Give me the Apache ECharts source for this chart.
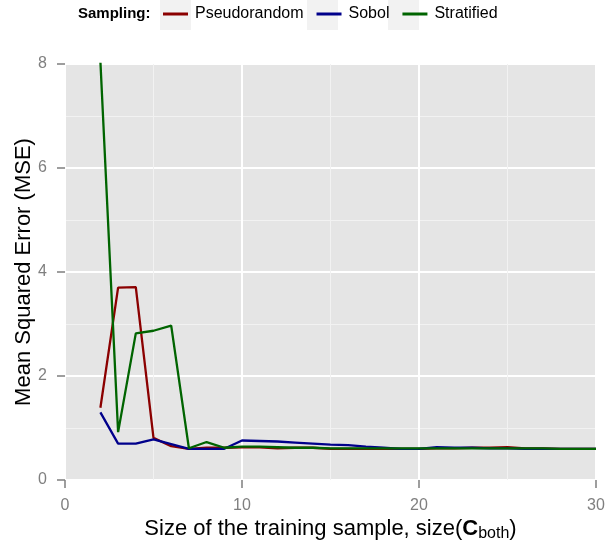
<!DOCTYPE html>
<html>
<head>
<meta charset="utf-8">
<script src="https://cdn.jsdelivr.net/npm/echarts@6/dist/echarts.min.js"></script>
<style>
  html, body { margin: 0; padding: 0; background: #fff; }
  #main { width: 615px; height: 546px; }
</style>
</head>
<body>
<div id="main"></div>
<script>
// training sample sizes
var sizes = [2, 3, 4, 5, 6, 7, 8, 9, 10, 11, 12, 13, 14, 15, 16, 17, 18, 19, 20, 21, 22, 23, 24, 25, 26, 27, 28, 29, 30];

// MSE per sampling scheme
var pseudorandom = [1.39, 3.70, 3.71, 0.81, 0.65, 0.60, 0.62, 0.62, 0.63, 0.63, 0.61, 0.62, 0.62, 0.60, 0.60,
                    0.60, 0.60, 0.60, 0.60, 0.61, 0.61, 0.62, 0.62, 0.63, 0.61, 0.61, 0.60, 0.60, 0.60];
var sobol = [1.30, 0.70, 0.70, 0.78, 0.69, 0.60, 0.60, 0.60, 0.76, 0.75, 0.74, 0.72, 0.70, 0.68, 0.67,
             0.64, 0.62, 0.60, 0.60, 0.63, 0.62, 0.62, 0.61, 0.61, 0.60, 0.60, 0.60, 0.60, 0.60];
var stratified = [8.05, 0.92, 2.82, 2.87, 2.97, 0.61, 0.73, 0.62, 0.64, 0.64, 0.63, 0.62, 0.62, 0.61, 0.61,
                  0.61, 0.61, 0.61, 0.61, 0.61, 0.61, 0.61, 0.61, 0.61, 0.61, 0.61, 0.60, 0.60, 0.60];

var xTicks = [0, 10, 20, 30];
var yTicks = [0, 2, 4, 6, 8];

var FONT = 'Liberation Sans';

function pairs(vals) {
    var out = [];
    for (var i = 0; i < sizes.length; i++) {
        out.push([sizes[i], vals[i]]);
    }
    return out;
}

function lineSeries(name, vals, color) {
    return {
        name: name,
        type: 'line',
        data: pairs(vals),
        showSymbol: false,
        symbol: 'none',
        clip: true,
        lineStyle: { color: color, width: 2.3 },
        itemStyle: { color: color },
        emphasis: { disabled: true },
        animation: false
    };
}

var chartObj = echarts.init(document.getElementById('main'), null, { renderer: 'canvas' });

var chartOpt = {
    animation: false,
    textStyle: { fontFamily: FONT },
    grid: {
        left: 65, right: 19, top: 64, bottom: 66,
        outerBoundsMode: 'none',
        containLabel: false,
        show: true, backgroundColor: '#E5E5E5', borderWidth: 0
    },
    graphic: [
        { type: 'text', left: 78, top: 6, z: 10,
          style: { text: 'Sampling:', font: 'bold 15px ' + FONT, fill: '#000' } },
        { type: 'rect', shape: { x: 160, y: 0, width: 31, height: 30 }, style: { fill: '#F2F2F2' }, z: 0 },
        { type: 'rect', shape: { x: 307, y: 0, width: 31, height: 30 }, style: { fill: '#F2F2F2' }, z: 0 },
        { type: 'rect', shape: { x: 388, y: 0, width: 31, height: 30 }, style: { fill: '#F2F2F2' }, z: 0 }
    ],
    legend: {
        left: 163, top: 6, z: 10,
        icon: 'rect',
        itemWidth: 25, itemHeight: 3,
        itemGap: 13,
        padding: 0,
        textStyle: { fontFamily: FONT, fontSize: 16, color: '#000', padding: [0, 0, 0, 2] },
        data: ['Pseudorandom', 'Sobol', 'Stratified']
    },
    xAxis: {
        type: 'value', min: 0, max: 30, interval: 10,
        name: 'Size of the training sample, size({b|C}{s|both})',
        nameLocation: 'middle', nameGap: 36,
        nameMoveOverlap: false,
        nameTextStyle: {
            fontFamily: FONT, fontSize: 22, color: '#000',
            rich: {
                b: { fontFamily: FONT, fontSize: 22, fontWeight: 'bold', color: '#000' },
                s: { fontFamily: FONT, fontSize: 16, color: '#000', padding: [10, 0, 0, 0] }
            }
        },
        axisLine: { show: false },
        axisTick: { show: true, length: 8, lineStyle: { color: '#7F7F7F', width: 1.5 } },
        axisLabel: { fontFamily: FONT, fontSize: 16, color: '#7F7F7F', margin: 18 },
        splitLine: { show: true, lineStyle: { color: '#FFFFFF', width: 2 } },
        minorTick: { show: false, splitNumber: 2 },
        minorSplitLine: { show: true, lineStyle: { color: '#F2F2F2', width: 1 } }
    },
    yAxis: {
        type: 'value', min: 0, max: 8, interval: 2,
        name: 'Mean Squared Error (MSE)',
        nameLocation: 'middle', nameGap: 30,
        nameMoveOverlap: false,
        nameTextStyle: { fontFamily: FONT, fontSize: 22, color: '#000' },
        axisLine: { show: false },
        axisTick: { show: true, length: 8, lineStyle: { color: '#7F7F7F', width: 1.5 } },
        axisLabel: { fontFamily: FONT, fontSize: 16, color: '#7F7F7F', margin: 18 },
        splitLine: { show: true, lineStyle: { color: '#FFFFFF', width: 2 } },
        minorTick: { show: false, splitNumber: 2 },
        minorSplitLine: { show: true, lineStyle: { color: '#F2F2F2', width: 1 } }
    },
    series: [
        lineSeries('Pseudorandom', pseudorandom, '#8B0000'),
        lineSeries('Sobol', sobol, '#00008B'),
        lineSeries('Stratified', stratified, '#006400')
    ]
};

chartObj.setOption(chartOpt);
</script>
</body>
</html>
